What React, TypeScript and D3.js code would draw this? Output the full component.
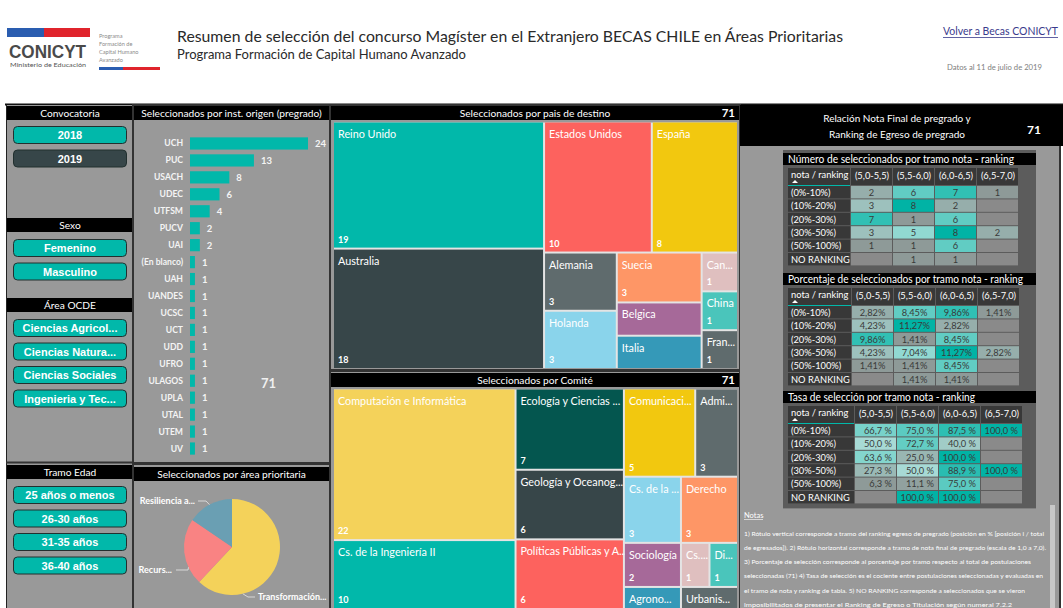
import React from 'react';
import * as d3 from 'd3';

const W = 1063, H = 608;
const FONT = "Lato, 'Open Sans', sans-serif";
const ARIAL = "'Liberation Sans', Arial, sans-serif";
const TEAL = '#01B8AA';
const PANEL = '#999999';

// ---------- data ----------
const convocatorias = ['2018', '2019'];
const sexos = ['Femenino', 'Masculino'];
const areasOcde = ['Ciencias Agricol...', 'Ciencias Natura...', 'Ciencias Sociales', 'Ingenieria y Tec...'];
const tramosEdad = ['25 años o menos', '26-30 años', '31-35 años', '36-40 años'];

const instituciones = ['UCH', 'PUC', 'USACH', 'UDEC', 'UTFSM', 'PUCV', 'UAI', '(En blanco)', 'UAH', 'UANDES', 'UCSC', 'UCT', 'UDD', 'UFRO', 'ULAGOS', 'UPLA', 'UTAL', 'UTEM', 'UV'];
const instValores = [24, 13, 8, 6, 4, 2, 2, 1, 1, 1, 1, 1, 1, 1, 1, 1, 1, 1, 1];
const totalSeleccionados = 71;

const areasPrioritarias = ['Transformación...', 'Recurs...', 'Resiliencia a...'];
const areasValores = [44, 16, 11];
const areasColores = ['#F4D25A', '#F98383', '#6A9FB3'];

const paises = ['Reino Unido', 'Australia', 'Estados Unidos', 'España', 'Alemania', 'Holanda', 'Suecia', 'Belgica', 'Italia', 'Can...', 'China', 'Fran...'];
const paisesValores = [19, 18, 10, 8, 3, 3, 3, 2, 2, 1, 1, 1];
const paisesColores = ['#01B8AA', '#374649', '#FD625E', '#F2C80F', '#5F6B6D', '#8AD4EB', '#FE9666', '#A66999', '#3599B8', '#DFBFBF', '#4AC5BB', '#5F6B6D'];

const comites = ['Computación e Informática', 'Cs. de la Ingeniería II', 'Ecología y Ciencias ...', 'Geología y Oceanog...', 'Políticas Públicas y A...', 'Comunicaci...', 'Admi...', 'Cs. de la ...', 'Derecho', 'Sociología', 'Agrono...', 'Cs....', 'Di...', 'Urbanis...'];
const comitesValores = [22, 10, 7, 6, 6, 5, 3, 3, 3, 2, 1, 1, 1, 1];
const comitesColores = ['#F4D25A', '#01B8AA', '#04564F', '#374649', '#FD625E', '#F2C80F', '#5F6B6D', '#8AD4EB', '#FE9666', '#A66999', '#3599B8', '#DFBFBF', '#4AC5BB', '#5F6B6D'];

const tramosRanking = ['(0%-10%)', '(10%-20%)', '(20%-30%)', '(30%-50%)', '(50%-100%)', 'NO RANKING'];
const tramosNota = ['(5,0-5,5)', '(5,5-6,0)', '(6,0-6,5)', '(6,5-7,0)'];
const numeroSel: (number | null)[][] = [
  [2, 6, 7, 1], [3, 8, 2, null], [7, 1, 6, null], [3, 5, 8, 2], [1, 1, 6, null], [null, 1, 1, null],
];
const porcentajeSel: (number | null)[][] = [
  [2.82, 8.45, 9.86, 1.41], [4.23, 11.27, 2.82, null], [9.86, 1.41, 8.45, null],
  [4.23, 7.04, 11.27, 2.82], [1.41, 1.41, 8.45, null], [null, 1.41, 1.41, null],
];
const tasaSel: (number | null)[][] = [
  [66.7, 75.0, 87.5, 100.0], [50.0, 72.7, 40.0, null], [63.6, 25.0, 100.0, null],
  [27.3, 50.0, 88.9, 100.0], [6.3, 11.1, 75.0, null], [null, 100.0, 100.0, null],
];

const notas = [
  '1) Rótulo vertical corresponde a tramo del ranking egreso de pregrado (posición en % [posición i / total',
  'de egresados]). 2) Rótulo horizontal corresponde a tramo de nota final de pregrado (escala de 1,0 a 7,0).',
  '3) Porcentaje de selección corresponde al porcentaje por tramo respecto al total de postulaciones',
  'seleccionadas (71) 4) Tasa de selección es el cociente entre postulaciones seleccionadas y evaluadas en',
  'el tramo de nota y ranking de tabla. 5) NO RANKING corresponde a seleccionados que se vieron',
  'imposibilitados de presentar el Ranking de Egreso o Titulación según numeral 7.2.2',
];
const notasAnchos = [300, 302, 287, 299, 281, 268];

// ---------- components ----------
function Header() {
  return (
    <g>
      <rect x={7} y={28} width={37} height={9} fill="#2A5DB0" />
      <rect x={44} y={28} width={46} height={9} fill="#E0242C" />
      <text x={9} y={58} fontFamily={ARIAL} fontWeight="bold" fontSize={19} fill="#4a4a4a" textLength={77} lengthAdjust="spacingAndGlyphs">CONICYT</text>
      <text x={10} y={67} fontFamily={FONT} fontSize={6.5} fill="#555" textLength={76} lengthAdjust="spacingAndGlyphs">Ministerio de Educación</text>
      {['Programa', 'Formación de', 'Capital Humano', 'Avanzado'].map((t, i) => (
        <text key={t} x={99} y={38 + i * 8} fontFamily={FONT} fontSize={5.6} fill="#8a8a8a">{t}</text>
      ))}
      <rect x={99} y={67} width={24} height={3} fill="#2A5DB0" />
      <rect x={123} y={67} width={37} height={3} fill="#E0242C" />
      <text x={177} y={42} fontFamily={FONT} fontSize={16} fill="#2a2a2a" textLength={666} lengthAdjust="spacingAndGlyphs">Resumen de selección del concurso Magíster en el Extranjero BECAS CHILE en Áreas Prioritarias</text>
      <text x={177} y={59} fontFamily={FONT} fontSize={12.5} fill="#2a2a2a" textLength={289} lengthAdjust="spacingAndGlyphs">Programa Formación de Capital Humano Avanzado</text>
      <text x={943} y={35} fontFamily={FONT} fontSize={10.8} fill="#3A3A8C" textLength={115} lengthAdjust="spacingAndGlyphs">Volver a Becas CONICYT</text>
      <line x1={943} x2={1058} y1={37.5} y2={37.5} stroke="#3A3A8C" strokeWidth={0.8} />
      <text x={947} y={70} fontFamily={FONT} fontSize={6.8} fill="#808080" textLength={95} lengthAdjust="spacingAndGlyphs">Datos al 11 de julio de 2019</text>
    </g>
  );
}

function SectionHeader({ x, y, w, h = 14, label }: { x: number; y: number; w: number; h?: number; label: string }) {
  return (
    <g>
      <rect x={x} y={y} width={w} height={h} fill="#000" />
      <text x={x + w / 2} y={y + h / 2 + 3.6} textAnchor="middle" fontSize={10.2} fill="#fff">{label}</text>
    </g>
  );
}

function Button({ y, label, selected }: { y: number; label: string; selected?: boolean }) {
  return (
    <g>
      <rect x={13.5} y={y + 0.5} width={113} height={17} rx={4} fill={selected ? '#374649' : TEAL} stroke="#22302F" strokeWidth={1} />
      <text x={70} y={y + 13} textAnchor="middle" fontFamily={ARIAL} fontWeight="bold" fontSize={11} fill="#fff">{label}</text>
    </g>
  );
}

function LeftPanel() {
  return (
    <g>
      <rect x={6} y={105} width={127} height={503} fill={PANEL} />
      <line x1={6.5} x2={6.5} y1={105} y2={608} stroke="#222" />
      <SectionHeader x={7} y={106} w={126} label="Convocatoria" />
      {convocatorias.map((c, i) => <Button key={c} y={126 + i * 23.5} label={c} selected={i === 1} />)}
      <SectionHeader x={7} y={218} w={126} label="Sexo" />
      {sexos.map((c, i) => <Button key={c} y={239 + i * 23.5} label={c} />)}
      <SectionHeader x={7} y={298} w={126} label="Área OCDE" />
      {areasOcde.map((c, i) => <Button key={c} y={319 + i * 23.5} label={c} />)}
      <line x1={6} x2={133} y1={462.5} y2={462.5} stroke="#333" strokeWidth={2} />
      <SectionHeader x={7} y={465} w={126} label="Tramo Edad" />
      {tramosEdad.map((c, i) => <Button key={c} y={486 + i * 23.5} label={c} />)}
    </g>
  );
}

function BarPanel() {
  const x = d3.scaleLinear().domain([0, d3.max(instValores) as number]).range([190, 308]);
  const y = d3.scaleBand().domain(instituciones).range([135, 457]).paddingInner(0.28).paddingOuter(0.14);
  return (
    <g>
      <rect x={133} y={105} width={197} height={358} fill={PANEL} stroke="#333" strokeWidth={2} />
      <SectionHeader x={134} y={106} w={195} label="Seleccionados por inst. origen (pregrado)" />
      {instituciones.map((c, i) => {
        const yy = y(c) as number;
        const bh = y.bandwidth();
        return (
          <g key={c}>
            <text x={183} y={yy + bh / 2 + 3} textAnchor="end" fontSize={8.6} fontWeight="bold" fill="#f4f4f4">{c}</text>
            <rect x={x(0)} y={yy} width={x(instValores[i]) - x(0)} height={bh} fill={TEAL} />
            <text x={x(instValores[i]) + 7} y={yy + bh / 2 + 3.5} fontSize={9.5} fontWeight="bold" fill="#f4f4f4">{instValores[i]}</text>
          </g>
        );
      })}
      <text x={261} y={388} fontSize={13} fontWeight="bold" fill="#f0f0f0">{totalSeleccionados}</text>
    </g>
  );
}

// label layout for the pie (angle of leader anchor in degrees, label position)
const pieLabelLayout = [
  { angle: 167, elbow: [248, 597], end: [255, 597], tx: 258, ty: 600, anchor: 'start' },
  { angle: 245, elbow: [188, 570], end: [176, 570], tx: 172, ty: 573, anchor: 'end' },
  { angle: 332, elbow: [206, 501], end: [198, 501], tx: 195, ty: 504, anchor: 'end' },
];

function PiePanel() {
  const cx = 232, cy = 547, r = 48;
  const arcs = d3.pie<number>().sort(null).value((d) => d)(areasValores);
  const arc = d3.arc<d3.PieArcDatum<number>>().innerRadius(0).outerRadius(r);
  return (
    <g>
      <rect x={133} y={464} width={197} height={146} fill={PANEL} stroke="#333" strokeWidth={2} />
      <SectionHeader x={134} y={467} w={195} label="Seleccionados por área prioritaria" />
      <g transform={`translate(${cx},${cy})`}>
        {arcs.map((a, i) => <path key={i} d={arc(a) as string} fill={areasColores[i]} />)}
      </g>
      {areasPrioritarias.map((name, i) => {
        const L = pieLabelLayout[i];
        const t = (L.angle * Math.PI) / 180;
        const px = cx + r * Math.sin(t), py = cy - r * Math.cos(t);
        return (
          <g key={name}>
            <polyline points={`${px},${py} ${L.elbow[0]},${L.elbow[1]} ${L.end[0]},${L.end[1]}`} fill="none" stroke="#d8d8d8" strokeWidth={1} />
            <text x={L.tx} y={L.ty} textAnchor={L.anchor as any} fontSize={9} fontWeight="bold" fill="#fff">{name}</text>
          </g>
        );
      })}
    </g>
  );
}

function Treemap({ names, values, colors, x0, y0, x1, y1 }: { names: string[]; values: number[]; colors: string[]; x0: number; y0: number; x1: number; y1: number }) {
  const data = { children: names.map((n, i) => ({ name: n, value: values[i], color: colors[i] })) };
  const root = d3.hierarchy<any>(data).sum((d: any) => d.value ?? 0);
  d3.treemap<any>().tile(d3.treemapSquarify).size([x1 - x0, y1 - y0]).paddingInner(2)(root);
  const leaves = root.leaves() as d3.HierarchyRectangularNode<any>[];
  return (
    <g transform={`translate(${x0},${y0})`}>
      <rect width={x1 - x0} height={y1 - y0} fill="#e4e4e4" />
      {leaves.map((l) => {
        const w = l.x1 - l.x0, h = l.y1 - l.y0;
        return (
          <g key={l.data.name}>
            <rect x={l.x0} y={l.y0} width={w} height={h} fill={l.data.color} />
            <text x={l.x0 + 4} y={l.y0 + 15} fontSize={10.8} fill="#fff">{l.data.name}</text>
            {h > 34 && <text x={l.x0 + 4} y={l.y1 - 5} fontSize={9} fontWeight="bold" fill="#fff">{l.data.value}</text>}
          </g>
        );
      })}
    </g>
  );
}

function TreemapPanel({ y, h, hy, title, names, values, colors, ty0, ty1 }: any) {
  return (
    <g>
      <rect x={330} y={y} width={410} height={h} fill={PANEL} stroke="#333" strokeWidth={2} />
      <SectionHeader x={331} y={hy} w={408} label={title} />
      <text x={735} y={hy + 11} textAnchor="end" fontSize={11.5} fontWeight="bold" fill="#fff">{totalSeleccionados}</text>
      <Treemap names={names} values={values} colors={colors} x0={334} y0={ty0} x1={737} y1={ty1} />
    </g>
  );
}

function HeatTable({ top, title, titleW, values, fmt, align, firstW }: { top: number; title: string; titleW: number; values: (number | null)[][]; fmt: (v: number) => string; align: 'middle' | 'end'; firstW: number }) {
  const flat = values.flat().filter((v) => v !== null) as number[];
  const mn = d3.min(flat) as number, mx = d3.max(flat) as number;
  const color = d3.scaleLinear<string>().domain([mn, (mn + mx) / 2, mx]).range(['#8E9A98', '#A9DFD9', '#01B3A5']);
  const cx0 = 788, hy = top + 15, hh = 18, rh = 13.4;
  const colX = d3.scaleBand().domain(tramosNota).range([cx0 + firstW + 1, cx0 + firstW + 1 + 42 * 4]);
  const rowY = d3.scaleBand().domain(tramosRanking).range([hy + hh, hy + hh + rh * 6]);
  const bottom = hy + hh + rh * 6;
  return (
    <g>
      <rect x={783} y={top - 3} width={253} height={bottom - top + 7} fill="#5C5C5C" />
      <rect x={783} y={top} width={253} height={12} fill="#000" />
      <text x={788} y={top + 9.6} fontSize={10.5} fill="#fff" textLength={titleW} lengthAdjust="spacingAndGlyphs">{title}</text>
      <rect x={cx0} y={hy} width={firstW} height={hh - 1} fill="#383838" />
      <text x={cx0 + 3} y={hy + 10} fontSize={9.3} fill="#fff">nota / ranking</text>
      <path d={`M${cx0 + 4},${hy + 15} l3,-3 l3,3 z`} fill="#fff" />
      <line x1={cx0} x2={cx0 + firstW} y1={hy + hh - 0.5} y2={hy + hh - 0.5} stroke={TEAL} strokeWidth={1} />
      {tramosNota.map((n) => (
        <g key={n}>
          <rect x={colX(n)} y={hy} width={colX.bandwidth() - 1} height={hh - 1} fill="#383838" />
          <text x={(colX(n) as number) + colX.bandwidth() / 2} y={hy + 11} textAnchor="middle" fontSize={9.3} fill="#fff">{n}</text>
        </g>
      ))}
      {tramosRanking.map((r, ri) => {
        const ry = rowY(r) as number;
        return (
          <g key={r}>
            <rect x={cx0} y={ry} width={firstW} height={rh - 1} fill="#383838" />
            <text x={cx0 + 3} y={ry + 9.8} fontSize={9.3} fill="#fff">{r}</text>
            {tramosNota.map((n, ci) => {
              const v = values[ri][ci];
              const x = colX(n) as number;
              const w = colX.bandwidth() - 1;
              return (
                <g key={n}>
                  <rect x={x} y={ry} width={w} height={rh - 1} fill={v === null ? '#8A8A8A' : color(v)} />
                  {v !== null && (
                    <text x={align === 'middle' ? x + w / 2 : x + w - 4} y={ry + 9.8} textAnchor={align} fontSize={9.3} fill="#3a3a3a">{fmt(v)}</text>
                  )}
                </g>
              );
            })}
          </g>
        );
      })}
    </g>
  );
}

const fmtComma = (d: number, p: number) => d.toFixed(p).replace('.', ',');

function RightPanel() {
  return (
    <g>
      <rect x={740} y={105} width={320} height={503} fill={PANEL} />
      <rect x={740} y={105} width={323} height={41} fill="#000" />
      <text x={897} y={122} textAnchor="middle" fontSize={10} fill="#fff">Relación Nota Final de pregrado y</text>
      <text x={897} y={138} textAnchor="middle" fontSize={10} fill="#fff">Ranking de Egreso de pregrado</text>
      <text x={1041} y={134} textAnchor="end" fontSize={12} fontWeight="bold" fill="#fff">{totalSeleccionados}</text>
      <line x1={1060} x2={1060} y1={146} y2={608} stroke="#333" strokeWidth={2} />
      <HeatTable top={153} title="Número de seleccionados por tramo nota - ranking" titleW={226} values={numeroSel} fmt={(v) => String(v)} align="middle" firstW={62} />
      <HeatTable top={273} title="Porcentaje de seleccionados por tramo nota - ranking" titleW={235} values={porcentajeSel} fmt={(v) => fmtComma(v, 2) + '%'} align="middle" firstW={63} />
      <HeatTable top={391} title="Tasa de selección por tramo nota - ranking" titleW={187} values={tasaSel} fmt={(v) => fmtComma(v, 1) + ' %'} align="end" firstW={66} />
      <text x={744} y={518} fontSize={7.5} fill="#fff">Notas</text>
      <line x1={744} x2={763} y1={519.5} y2={519.5} stroke="#fff" strokeWidth={0.6} />
      {notas.map((t, i) => (
        <text key={i} x={744} y={535.5 + i * 14.3} fontSize={6.4} fill="#fff" textLength={notasAnchos[i]} lengthAdjust="spacingAndGlyphs">{t}</text>
      ))}
      <rect x={1050} y={505} width={5} height={103} fill="#C8C8C8" />
    </g>
  );
}

export default function App() {
  return (
    <svg width={W} height={H} style={{ position: 'absolute', left: 0, top: 0, background: '#fff' }} fontFamily={FONT}>
      <rect width={W} height={H} fill="#fff" />
      <Header />
      <rect x={5} y={103.5} width={1058} height={2} fill="#111" />
      <LeftPanel />
      <BarPanel />
      <PiePanel />
      <TreemapPanel y={105} h={265} hy={106} title="Seleccionados por pais de destino" names={paises} values={paisesValores} colors={paisesColores} ty0={122.5} ty1={368} />
      <TreemapPanel y={371} h={240} hy={373} title="Seleccionados por Comité" names={comites} values={comitesValores} colors={comitesColores} ty0={389.5} ty1={608} />
      <RightPanel />
    </svg>
  );
}
